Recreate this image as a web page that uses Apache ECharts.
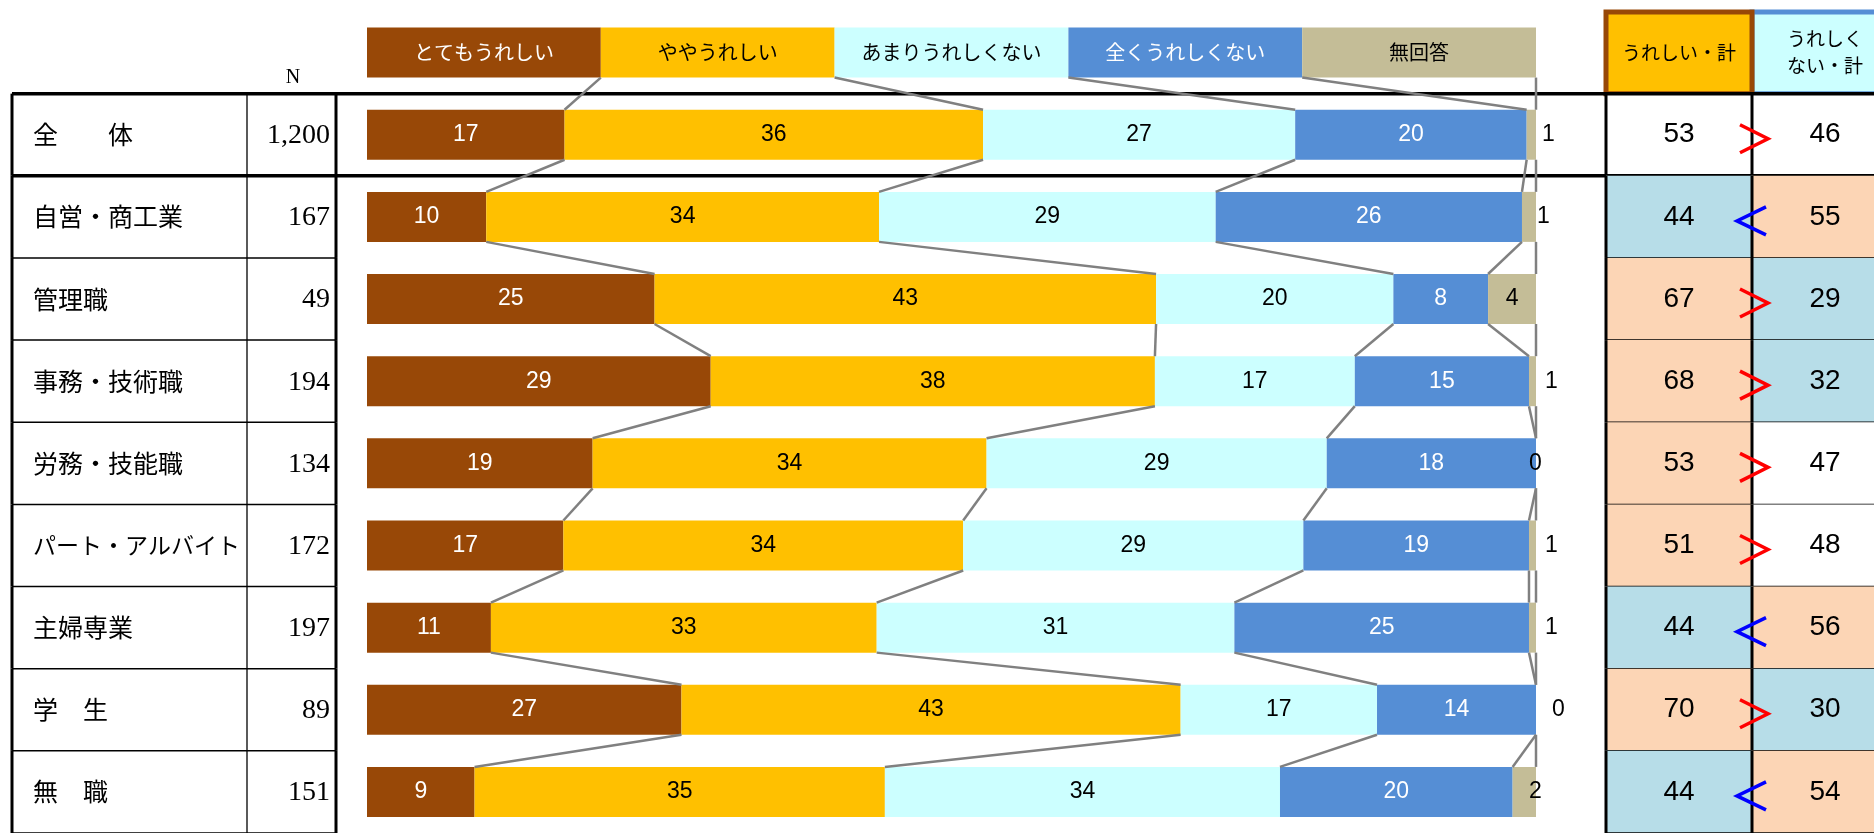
<!DOCTYPE html>
<html><head><meta charset="utf-8">
<script src="https://cdn.jsdelivr.net/npm/echarts@6/dist/echarts.min.js"></script>
<style>html,body{margin:0;padding:0;background:#fff}#c{width:1874px;height:833px}</style>
</head><body><div id="c"></div>
<script>
// ---- data ----
const seriesNames = ['とてもうれしい','ややうれしい','あまりうれしくない','全くうれしくない','無回答'];
const categories = ['全　　体','自営・商工業','管理職','事務・技術職','労務・技能職','パート・アルバイト','主婦専業','学　生','無　職'];
const sampleN = ['1,200','167','49','194','134','172','197','89','151'];
const veryHappy     = [16.9,10.2,24.6,29.4,19.3,16.8,10.6,26.9, 9.2];
const somewhatHappy = [35.8,33.6,42.9,38.0,33.7,34.2,33.0,42.7,35.1];
const notVeryHappy  = [26.7,28.8,20.3,17.1,29.1,29.1,30.6,16.8,33.8];
const notAtAllHappy = [19.8,26.2, 8.1,14.9,17.9,19.3,25.2,13.6,19.9];
const noAnswer      = [ 0.8, 1.2, 4.1, 0.6, 0.0, 0.6, 0.6, 0.0, 2.0];
const happyTotal   = [53,44,67,68,53,51,44,70,44];
const unhappyTotal = [46,55,29,32,47,48,56,30,54];
const happyMark   = ['none','low','high','high','high','high','low','high','low'];
const unhappyMark = ['none','high','low','low','none','none','high','low','high'];
const legendShare = [20,20,20,20,20];
const totalHeaders = ['うれしい・計','うれしく\nない・計'];
const nHeader = 'N';

// ---- style / layout ----
const noAnswerLabelShift = [6,1,0,9,-7,9,9,16,-7];
const COLORS = ['#984807','#FFC000','#CCFFFF','#558ED5','#C4BD97'];
const LABEL_COLORS = ['#ffffff','#000000','#000000','#ffffff','#000000'];
const BAR_W = 50;
const GRID_TOP = 11.5, GRID_H = 825;
const TABLE_W = 1862;
const COL = {label:21, nDiv:235, nRight:324, nText:318, nHead:281, happy:1594, mid:1740, end:1886};
const CJK = 'Noto Sans CJK JP';

const valueSets = [veryHappy, somewhatHappy, notVeryHappy, notAtAllHappy, noAnswer];
const yCats = ['凡例'].concat(categories);

const barSeries = seriesNames.map((name, k) => ({
  type:'bar', name, stack:'all', xAxisIndex:1, yAxisIndex:1, barWidth:BAR_W, z:3,
  itemStyle:{color:COLORS[k]},
  label:{show:true, position:'inside', color:LABEL_COLORS[k], fontFamily:'Liberation Sans, Arial', fontSize:23,
         formatter: p => String(Math.round(p.value))},
  data:[{value:legendShare[k], label:{formatter:name, fontFamily:CJK, fontSize:20}}]
    .concat(valueSets[k].map((v,i) => {
      if (k === 4 && v < 3) return {value:v, label:{position:'right', distance:0, offset:[noAnswerLabelShift[i],0]}};
      return v;
    }))
}));

const rowsVals = [legendShare].concat(categories.map((_, i) => valueSets.map(s => s[i])));
const connectorData = [];
for (let ci = 0; ci < rowsVals.length - 1; ci++) {
  let a = 0, b = 0;
  for (let k = 0; k < 5; k++) {
    a += rowsVals[ci][k]; b += rowsVals[ci+1][k];
    connectorData.push([a, b, ci]);
  }
}

const connectorSeries = {
  type:'custom', xAxisIndex:1, yAxisIndex:1, z:4, silent:true,
  encode:{x:0, y:2},
  data:connectorData,
  renderItem:(params, api) => {
    const ci = api.value(2);
    const p1 = api.coord([api.value(0), ci]);
    const p2 = api.coord([api.value(1), ci + 1]);
    return {type:'line', shape:{x1:p1[0], y1:p1[1] + BAR_W/2, x2:p2[0], y2:p2[1] - BAR_W/2},
            style:{stroke:'#808080', lineWidth:2.5}};
  }
};

const fillFor = m => m === 'high' ? '#FCD5B5' : (m === 'low' ? '#B7DDE8' : '#FFFFFF');
const tableData = [[0, 0, -1]].concat(categories.map((_, i) => [0, i + 1, i]));

const tableSeries = {
  type:'custom', xAxisIndex:0, yAxisIndex:0, z:1, silent:true,
  encode:{x:0, y:1},
  data:tableData,
  renderItem:(params, api) => {
    const ci = api.value(1), r = api.value(2);
    const X = u => api.coord([u, ci])[0];
    const cy = api.coord([0, ci])[1];
    const h = api.size([0, 1])[1];
    const top = cy - h/2, bot = cy + h/2;
    const ch = [];
    const line = (x1,y1,x2,y2,w,c) => ch.push({type:'line', shape:{x1,y1,x2,y2}, style:{stroke:c||'#000', lineWidth:w}});
    const text = (t,x,y,o) => ch.push({type:'text', style:Object.assign({text:t, x, y, fill:'#000', align:'center', verticalAlign:'middle'}, o)});
    if (r < 0) {
      ch.push({type:'rect', shape:{x:X(COL.mid), y:top+0.5, width:X(COL.end)-X(COL.mid), height:h-0.5},
               style:{fill:'#CCFFFF', stroke:'#558ED5', lineWidth:5}});
      ch.push({type:'rect', shape:{x:X(COL.happy), y:top+0.5, width:X(COL.mid)-X(COL.happy), height:h-0.5},
               style:{fill:'#FFC000', stroke:'#984807', lineWidth:5}});
      text(totalHeaders[0], (X(COL.happy)+X(COL.mid))/2, cy, {fontFamily:CJK, fontSize:19});
      text(totalHeaders[1], (X(COL.mid)+X(COL.end))/2, cy, {fontFamily:CJK, fontSize:19, lineHeight:27});
      text(nHeader, X(COL.nHead), bot - 16, {fontFamily:'Liberation Serif', fontSize:20});
      return {type:'group', children:ch};
    }
    // cell fills
    ch.push({type:'rect', shape:{x:X(COL.happy), y:top, width:X(COL.mid)-X(COL.happy), height:h}, style:{fill:fillFor(happyMark[r])}});
    ch.push({type:'rect', shape:{x:X(COL.mid), y:top, width:X(COL.end)-X(COL.mid), height:h}, style:{fill:fillFor(unhappyMark[r])}});
    // horizontal lines
    if (r === 0) {
      line(X(0), top, X(COL.end), top, 3.5);
      line(X(0), bot, X(COL.end), bot, 3.5);
    } else {
      line(X(0), bot, X(COL.nRight), bot, 1.5);
      line(X(COL.happy), bot, X(COL.end), bot, 1.5);
    }
    // vertical lines
    line(X(0), top, X(0), bot, 3);
    line(X(COL.nDiv), top, X(COL.nDiv), bot, 1.3);
    line(X(COL.nRight), top, X(COL.nRight), bot, 3);
    line(X(COL.happy), top, X(COL.happy), bot, 3);
    line(X(COL.mid), top, X(COL.mid), bot, 3);
    // texts
    const lab = categories[r];
    text(lab, X(COL.label), cy, {fontFamily:CJK, fontSize: lab.length > 7 ? 23 : 25, align:'left'});
    text(sampleN[r], X(COL.nText), cy + 1, {fontFamily:'Liberation Serif', fontSize:28, align:'right'});
    text(String(happyTotal[r]), (X(COL.happy)+X(COL.mid))/2, cy, {fontFamily:'Liberation Sans', fontSize:28});
    text(String(unhappyTotal[r]), (X(COL.mid)+X(COL.end))/2, cy, {fontFamily:'Liberation Sans', fontSize:28});
    // comparison chevron
    const bx = X(COL.mid);
    const greater = happyTotal[r] > unhappyTotal[r];
    const pts = greater ? [[bx-12, cy-10],[bx+16, cy+4],[bx-12, cy+18]]
                        : [[bx+14, cy-10],[bx-15, cy+4],[bx+14, cy+18]];
    ch.push({type:'polyline', shape:{points:pts}, style:{stroke: greater ? '#FF0000' : '#0000FF', lineWidth:3.5, fill:null}});
    return {type:'group', children:ch};
  }
};

const chart = echarts.init(document.getElementById('c'), null, {renderer:'canvas'});
chart.setOption({
  animation:false,
  backgroundColor:'#ffffff',
  grid:[
    {left:12, top:GRID_TOP, width:TABLE_W, height:GRID_H},
    {left:367, top:GRID_TOP, width:1169, height:GRID_H}
  ],
  xAxis:[
    {type:'value', gridIndex:0, min:0, max:TABLE_W, show:false},
    {type:'value', gridIndex:1, min:0, max:100, show:false}
  ],
  yAxis:[
    {type:'category', gridIndex:0, data:yCats, inverse:true, show:false},
    {type:'category', gridIndex:1, data:yCats, inverse:true, show:false}
  ],
  series:[tableSeries].concat(barSeries, [connectorSeries])
});
</script>
</body></html>
